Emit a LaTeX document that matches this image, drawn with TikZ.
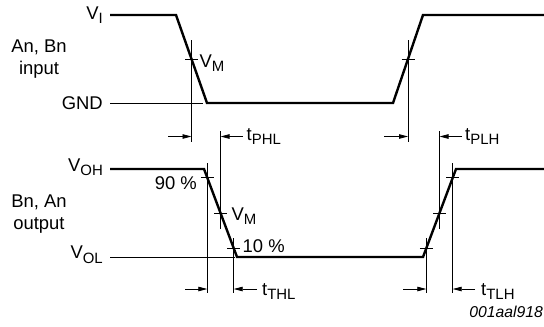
\documentclass[tikz,border=0pt]{standalone}
\usepackage{fontspec}
\setmainfont{Liberation Sans}
\usetikzlibrary{arrows.meta}
\newcommand\sbx[1]{\raisebox{-4.5bp}{\fontsize{15}{16}\selectfont #1}}
\begin{document}
\begin{tikzpicture}[x=1bp,y=-1bp,
  wave/.style={line width=2.4bp,line join=miter},
  thin/.style={line width=0.8bp},
  marker/.style={line width=0.8bp,-{Triangle[length=9bp,width=4.5bp]}},
  lbl/.style={inner sep=0pt,font=\fontsize{18.5}{22}\selectfont},
  fig/.style={inner sep=0pt,font=\fontsize{15.8}{18}\selectfont\itshape}]
\useasboundingbox (0,0) rectangle (544,326);
% reference lines
\coordinate (gndL) at (110,103); \coordinate (gndR) at (203,103);
\coordinate (volL) at (110,257); \coordinate (volR) at (235,257);
\draw[thin] (gndL) -- (gndR);
\draw[thin] (volL) -- (volR);
% waveforms
\coordinate (i0) at (110,15); \coordinate (i1) at (176,15); \coordinate (i2) at (207,103);
\coordinate (i3) at (393,103); \coordinate (i4) at (423,15); \coordinate (i5) at (545,15);
\draw[wave] (i0) -- (i1) -- (i2) -- (i3) -- (i4) -- (i5);
\coordinate (o0) at (110,169); \coordinate (o1) at (204,169); \coordinate (o2) at (237,257);
\coordinate (o3) at (423,257); \coordinate (o4) at (456,169); \coordinate (o5) at (545,169);
\draw[wave] (o0) -- (o1) -- (o2) -- (o3) -- (o4) -- (o5);
% vertical measure lines
\coordinate (a1) at (191.5,40); \coordinate (a2) at (191.5,142);
\coordinate (b1) at (220.5,131); \coordinate (b2) at (220.5,229);
\coordinate (c1) at (408,40); \coordinate (c2) at (408,142);
\coordinate (d1) at (439.5,131); \coordinate (d2) at (439.5,229);
\coordinate (e1) at (207.3,163); \coordinate (e2) at (207.3,293);
\coordinate (f1) at (233.7,238); \coordinate (f2) at (233.7,293);
\coordinate (g1) at (426.3,238); \coordinate (g2) at (426.3,293);
\coordinate (h1) at (452.7,163); \coordinate (h2) at (452.7,293);
\foreach \p in {a,b,c,d,e,f,g,h} \draw[thin] (\p1) -- (\p2);
% ticks
\foreach \x/\y in {191.5/59, 408/59, 207.3/177.8, 220.5/213, 233.7/248.2, 426.3/248.2, 439.5/213, 452.7/177.8}
  \draw[thin] (\x-6.5,\y) -- (\x+6.5,\y);
% arrows
\coordinate (ta1) at (168,136.5); \coordinate (ta2) at (191.5,136.5);
\coordinate (tb1) at (243,136.5); \coordinate (tb2) at (220.5,136.5);
\coordinate (tc1) at (384,136.5); \coordinate (tc2) at (408,136.5);
\coordinate (td1) at (462,136.5); \coordinate (td2) at (439.5,136.5);
\coordinate (te1) at (185,289); \coordinate (te2) at (207.3,289);
\coordinate (tf1) at (257,289); \coordinate (tf2) at (233.7,289);
\coordinate (tg1) at (403,289); \coordinate (tg2) at (426.3,289);
\coordinate (th1) at (475,289); \coordinate (th2) at (452.7,289);
\foreach \p in {ta,tb,tc,td,te,tf,tg,th} \draw[marker] (\p1) -- (\p2);
% labels
\node[lbl,anchor=base east] (vi) at (103,19) {V\sbx{I}};
\node[lbl,anchor=base east] (gnd) at (103,109.5) {GND};
\node[lbl,anchor=base east] (voh) at (103,171) {V\sbx{OH}};
\node[lbl,anchor=base east] (vol) at (103,258.5) {V\sbx{OL}};
\node[lbl,align=center] (inl) at (39,59.5) {An, Bn\\input};
\node[lbl,align=center] (outl) at (39,214.5) {Bn, An\\output};
\node[lbl,anchor=base west] (vm1) at (199.5,67) {V\sbx{M}};
\node[lbl,anchor=base west] (vm2) at (231.5,220) {V\sbx{M}};
\node[lbl,anchor=base east] (p90) at (197,189) {90 \%};
\node[lbl,anchor=base west] (p10) at (242.5,252) {10 \%};
\node[lbl,anchor=base west] (tphl) at (246.5,140) {t\sbx{PHL}};
\node[lbl,anchor=base west] (tplh) at (465,140) {t\sbx{PLH}};
\node[lbl,anchor=base west] (tthl) at (262,295) {t\sbx{THL}};
\node[lbl,anchor=base west] (ttlh) at (481,295) {t\sbx{TLH}};
\node[fig,anchor=base east] (code) at (543,317) {001aal918};
\end{tikzpicture}
\end{document}
